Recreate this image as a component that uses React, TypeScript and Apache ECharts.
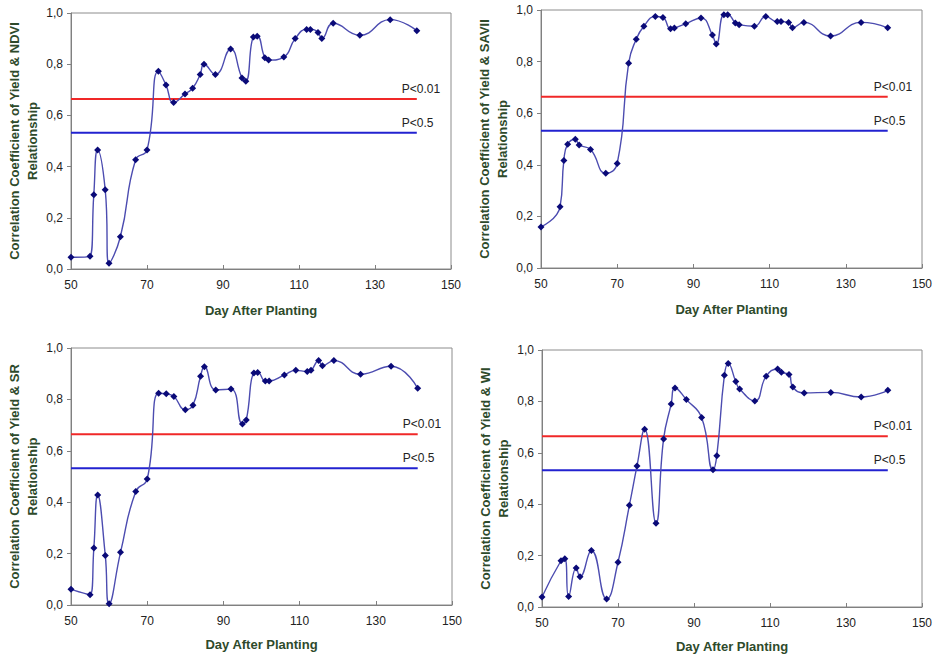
import React, { useEffect, useRef } from "react";
import * as echarts from "echarts";

const days = [50, 55, 56, 57, 59, 60, 63, 67, 70, 73, 75, 77, 80, 82, 84, 85, 88, 92, 95, 96, 98, 99, 101, 102, 106, 109, 112, 113, 115, 116, 119, 126, 134, 141];

const ndvi = [0.046, 0.05, 0.29, 0.465, 0.31, 0.022, 0.126, 0.427, 0.465, 0.772, 0.719, 0.65, 0.684, 0.706, 0.76, 0.8, 0.76, 0.859, 0.746, 0.733, 0.906, 0.909, 0.825, 0.816, 0.828, 0.9, 0.936, 0.936, 0.924, 0.9, 0.96, 0.913, 0.974, 0.931];
const savi = [0.159, 0.237, 0.417, 0.48, 0.499, 0.477, 0.459, 0.367, 0.405, 0.794, 0.887, 0.937, 0.975, 0.971, 0.927, 0.93, 0.947, 0.969, 0.903, 0.868, 0.982, 0.982, 0.95, 0.943, 0.937, 0.975, 0.955, 0.955, 0.952, 0.931, 0.952, 0.899, 0.952, 0.931];
const sr = [0.061, 0.04, 0.222, 0.428, 0.193, 0.005, 0.205, 0.442, 0.49, 0.824, 0.822, 0.811, 0.76, 0.777, 0.89, 0.927, 0.837, 0.84, 0.704, 0.72, 0.903, 0.905, 0.872, 0.872, 0.895, 0.913, 0.909, 0.913, 0.951, 0.931, 0.951, 0.898, 0.929, 0.843];
const wi = [0.039, 0.18, 0.188, 0.041, 0.152, 0.118, 0.22, 0.031, 0.174, 0.396, 0.549, 0.692, 0.326, 0.654, 0.79, 0.852, 0.807, 0.737, 0.534, 0.589, 0.902, 0.947, 0.877, 0.848, 0.802, 0.898, 0.926, 0.913, 0.905, 0.856, 0.833, 0.835, 0.817, 0.843];

const indexNames = ["NDVI", "SAVII", "SR", "WI"];
const seriesValues = [ndvi, savi, sr, wi];

const xTicks = [50, 70, 90, 110, 130, 150];
const refStart = 50;
const refEnd = 141;
const pHigh = 0.664;
const pLow = 0.532;
const pHighLabel = "P<0.01";
const pLowLabel = "P<0.5";
const xTitle = "Day After Planting";

const grids = [
  { left: 71, top: 13, width: 380, height: 256 },
  { left: 541, top: 10, width: 381, height: 258 },
  { left: 71, top: 348, width: 381, height: 257 },
  { left: 542, top: 350, width: 380, height: 257 },
];

const FONT = "'Liberation Sans', Arial, sans-serif";
const TITLE_COLOR = "#2E4A2B";
const AXIS_COLOR = "#808080";

export default function App() {
  const ref = useRef<HTMLDivElement>(null);
  useEffect(() => {
    if (!ref.current) return;
    const chart = echarts.init(ref.current, undefined, { renderer: "svg" });
    const xAxes: any[] = [];
    const yAxes: any[] = [];
    const series: any[] = [];
    grids.forEach((g, i) => {
      xAxes.push({
        gridIndex: i,
        type: "value",
        min: 50,
        max: 150,
        name: xTitle,
        nameLocation: "middle",
        nameGap: i < 2 ? 35 : 33,
        nameTextStyle: { fontFamily: FONT, fontSize: 13, fontWeight: "bold", color: TITLE_COLOR },
        axisLine: { lineStyle: { color: AXIS_COLOR, width: 1 } },
        axisTick: { show: true, inside: true, length: 4, customValues: xTicks, lineStyle: { color: AXIS_COLOR } },
        axisLabel: { customValues: xTicks, margin: 10, fontFamily: FONT, fontSize: 12, color: "#222" },
        splitLine: { show: false },
      });
      yAxes.push({
        gridIndex: i,
        type: "value",
        min: 0,
        max: 1,
        interval: 0.2,
        name: "Correlation Coefficient of Yield & " + indexNames[i] + "\nRelationship",
        nameLocation: "middle",
        nameRotate: 90,
        nameGap: 30,
        nameTextStyle: { fontFamily: FONT, fontSize: 13, fontWeight: "bold", color: TITLE_COLOR, lineHeight: 18 },
        axisLine: { show: true, lineStyle: { color: AXIS_COLOR, width: 1 } },
        axisTick: { show: true, length: 4, lineStyle: { color: AXIS_COLOR } },
        axisLabel: {
          margin: 8,
          fontFamily: FONT,
          fontSize: 12,
          color: "#222",
          formatter: (v: number) => v.toFixed(1).replace(".", ","),
        },
        splitLine: { show: false },
      });
      const refLine = (val: number, color: string, text: string, offX: number) => ({
        type: "line",
        xAxisIndex: i,
        yAxisIndex: i,
        data: [
          { value: [refStart, val] },
          {
            value: [refEnd, val],
            label: {
              show: true,
              position: "top",
              align: "left",
              distance: 4,
              offset: [offX, 0],
              formatter: text,
              fontFamily: FONT,
              fontSize: 12,
              color: "#222",
            },
          },
        ],
        symbol: "circle",
        symbolSize: 0,
        showSymbol: true,
        itemStyle: { color },
        lineStyle: { color, width: 2 },
        silent: true,
        z: 1,
      });
      const offX = i % 2 === 0 ? -15 : -14;
      series.push(refLine(pHigh, "#F02828", pHighLabel, offX));
      series.push(refLine(pLow, "#2222D0", pLowLabel, offX));
      series.push({
        type: "line",
        xAxisIndex: i,
        yAxisIndex: i,
        data: days.map((d, k) => [d, seriesValues[i][k]]),
        smooth: 0.5,
        smoothConstraint: false,
        symbol: "diamond",
        symbolSize: 7,
        itemStyle: { color: "#0A0A78" },
        lineStyle: { color: "#4C4CB0", width: 1.4 },
        z: 3,
      });
    });
    chart.setOption({
      animation: false,
      backgroundColor: "#ffffff",
      grid: grids.map((g) => ({ ...g, show: true, borderColor: "#8c8c8c", borderWidth: 1, backgroundColor: "transparent" })),
      xAxis: xAxes,
      yAxis: yAxes,
      series,
    });
    return () => chart.dispose();
  }, []);
  return (
    <div
      ref={ref}
      style={{ position: "fixed", left: 0, top: 0, width: 939, height: 657, background: "#fff" }}
    />
  );
}
